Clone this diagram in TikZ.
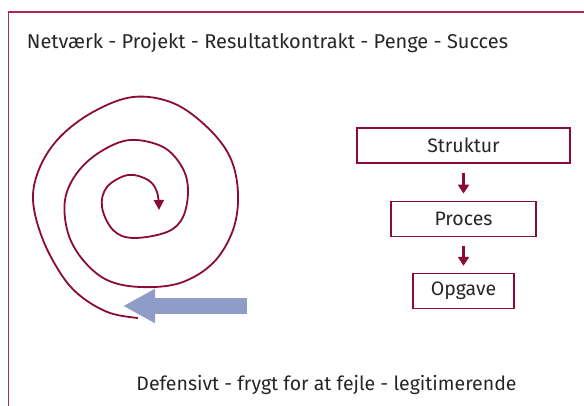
\documentclass[tikz,border=0pt]{standalone}
\usepackage{fontspec}
\setmainfont{Fira Sans}
\usetikzlibrary{arrows.meta}
\usetikzlibrary{positioning}
\definecolor{framered}{HTML}{B0284F}
\definecolor{wine}{HTML}{8B0A3A}
\definecolor{lavender}{HTML}{8F9CC7}

\begin{document}
\begin{tikzpicture}[x=1pt,y=-1pt,
	label/.style={font=\fontsize{20}{22}\selectfont,text=black!85},
	box/.style={draw=wine,line width=1.2pt,minimum height=35pt,inner sep=0pt,font=\fontsize{19.5}{22}\selectfont,text=black!85},
	flow/.style={wine,line width=3pt,-{Triangle[width=11pt,length=9pt]},shorten <=9pt,shorten >=7pt}]
	\useasboundingbox (0,0) rectangle (584,406);
	\draw[framered,line width=1.2pt] (8.5,406) |- (584,12);
	\node[label] (title) at (267.5,43) {Netværk - Projekt - Resultatkontrakt - Penge - Succes};
	\node[label,font=\fontsize{19.5}{22}\selectfont] (bottom) at (326.5,385) {Defensivt - frygt for at fejle - legitimerende};
	% spiral
	\draw[wine,line width=1.8pt,-{Triangle[width=10pt,length=10pt]}] plot[smooth,tension=0.6] coordinates {
		(138,318) (110,313) (83,298) (63,277) (43,240) (33,200) (40,167) (60,137) (93,112) (133,97)
		(173,103) (207,127) (230,157) (238,193) (233,230) (213,263) (180,283) (140,287) (107,280)
		(83,260) (68,233) (65,200) (77,173) (100,152) (130,140) (163,147) (182,167) (188,190)
		(183,217) (167,232) (133,238) (113,230) (102,207) (107,187) (128,175) (148,180) (157,192) (159,210)};
	\coordinate (bluestart) at (247,306);
	\coordinate (blueend) at (123,306);
	\draw[lavender,line width=15pt,-{Triangle[width=32pt,length=32pt]}] (bluestart) -- (blueend);
	% boxes
	\node[box,minimum width=213pt] (struktur) at (463.5,145.5) {Struktur};
	\node[box,minimum width=145pt,below=37pt of struktur] (proces) {Proces};
	\node[box,minimum width=101pt,below=36pt of proces] (opgave) {Opgave};
	\draw[flow] (struktur) -- (proces);
	\draw[flow] (proces) -- (opgave);
\end{tikzpicture}
\end{document}
